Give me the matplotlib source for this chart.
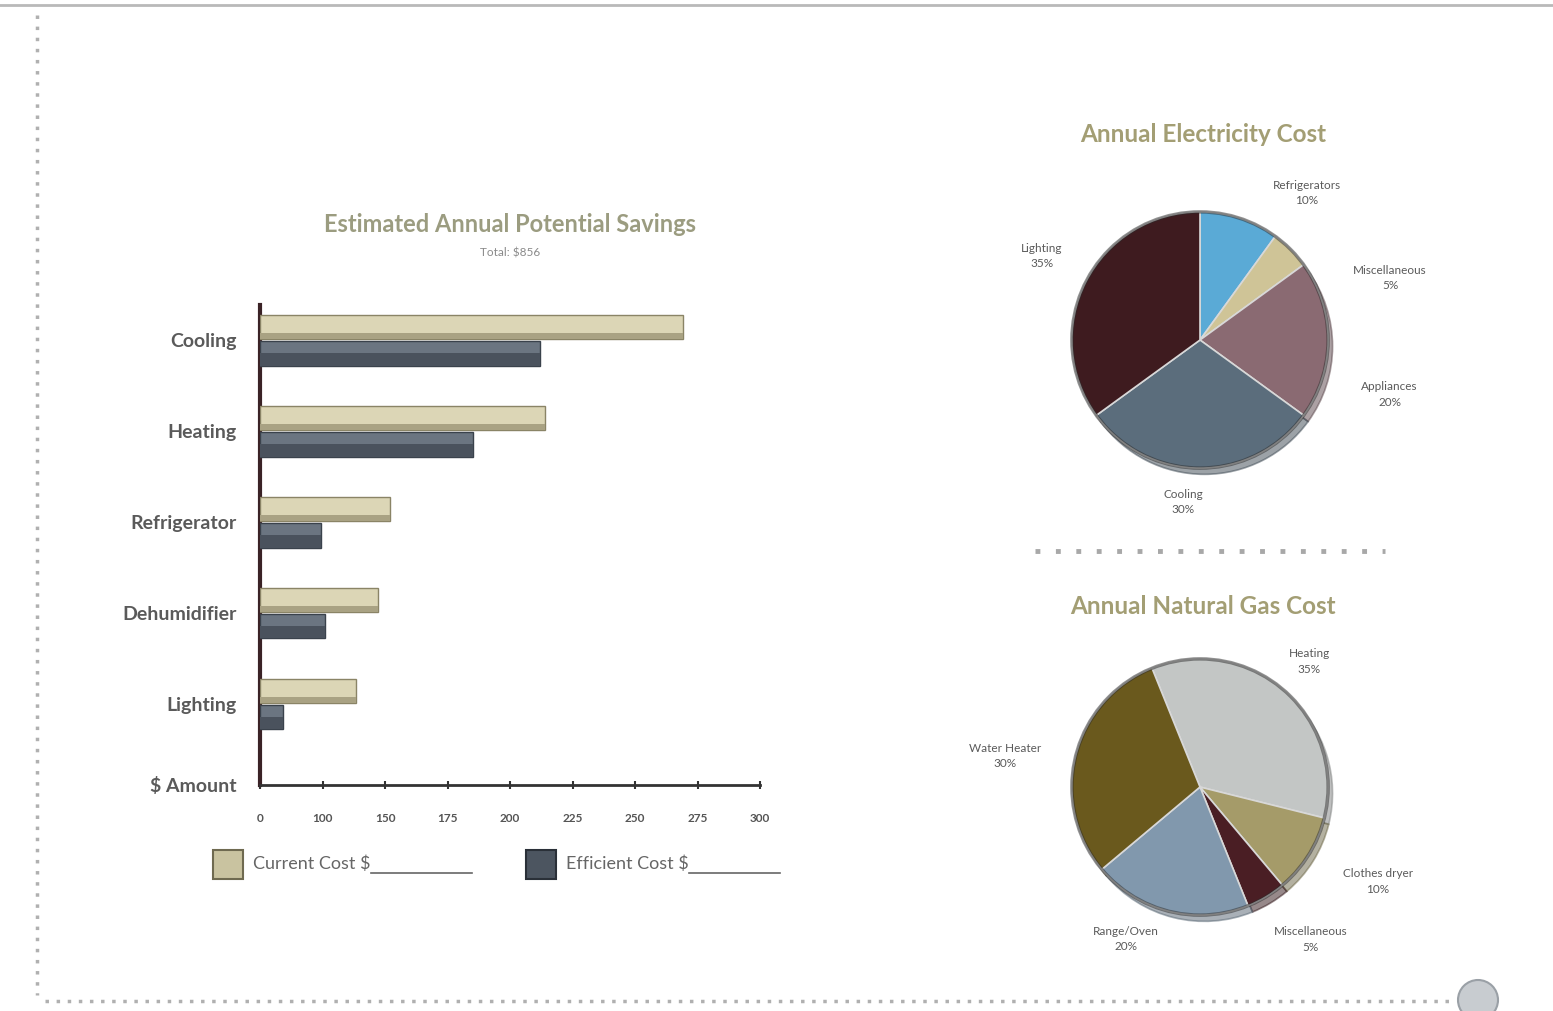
import numpy as np
import matplotlib
matplotlib.use("Agg")
import matplotlib.pyplot as plt
from matplotlib.lines import Line2D
from matplotlib.patches import Rectangle, Circle, Ellipse

plt.rcParams['font.family'] = ['Lato', 'DejaVu Sans']

# ---------------- data ----------------
categories = ["Cooling", "Heating", "Refrigerator", "Dehumidifier", "Lighting"]
current_cost = [269, 214, 152, 144, 127]
efficient_cost = [212, 185, 98, 102, 37]
x_tick_values = [0, 100, 150, 175, 200, 225, 250, 275, 300]
x_tick_labels = ["0", "100", "150", "175", "200", "225", "250", "275", "300"]
bar_title = "Estimated Annual Potential Savings"
bar_subtitle = "Total: $856"
legend_labels = ["Current Cost $", "Efficient Cost $"]

elec_labels = ["Refrigerators", "Miscellaneous", "Appliances", "Cooling", "Lighting"]
elec_values = [10, 5, 20, 30, 35]
elec_colors = ["#5aaad6", "#cfc497", "#8a6a72", "#5b6d7c", "#3e1b1f"]

gas_labels = ["Heating", "Clothes dryer", "Miscellaneous", "Range/Oven", "Water Heater"]
gas_values = [35, 10, 5, 20, 30]
gas_colors = ["#c3c6c5", "#a59b69", "#4a1e24", "#8198ad", "#6a591d"]

# label placement (layout only): (angle deg, radius in pie radii)
elec_label_pos = [(54, 1.42), (18, 1.56), (-16, 1.54), (-96, 1.27), (152, 1.40)]
gas_label_pos = [(49, 1.30), (-28, 1.57), (-54, 1.47), (-116, 1.32), (171, 1.54)]

# ---------------- figure ----------------
W, H = 1553, 1011
fig = plt.figure(figsize=(W / 100, H / 100), dpi=100)
fig.patch.set_facecolor("white")

# decorative frame
fig.add_artist(Line2D([0, 1], [1 - 5 / H, 1 - 5 / H], color="#b9b9b9", lw=2))
fig.add_artist(Line2D([37 / W, 37 / W], [1 - 15 / H, 1 - 995 / H], color="#b0b0b0",
                      lw=2.5, ls=(0, (1, 2.2))))
fig.add_artist(Line2D([45 / W, 1455 / W], [1 - 1001 / H, 1 - 1001 / H], color="#b0b0b0",
                      lw=2.5, ls=(0, (1, 2.2))))
fig.add_artist(Line2D([1035 / W, 1385 / W], [1 - 551 / H, 1 - 551 / H], color="#a8a8a8",
                      lw=3.5, ls=(0, (1, 3.2))))
fig.add_artist(Ellipse((1478 / W, 1 - 1000 / H), 40 / W, 40 / H, transform=fig.transFigure,
                       facecolor="#c8ccd0", edgecolor="#9aa0a6", lw=1.5, zorder=5))

# ---------------- bar chart ----------------
fwd = lambda v: np.interp(v, x_tick_values, np.arange(len(x_tick_values)))
inv = lambda p: np.interp(p, np.arange(len(x_tick_values)), x_tick_values)

axb = fig.add_axes([260 / W, 1 - 785 / H, 500 / W, 480 / H])
axb.set_xscale('function', functions=(fwd, inv))
y = np.arange(len(categories))
bh = 0.27
yc = y - bh / 2 - 0.01
ye = y + bh / 2 + 0.01
axb.barh(yc, current_cost, height=bh, color="#dcd6b6", edgecolor="#8a8466",
         linewidth=1.0, zorder=3)
axb.barh(yc + bh * 0.38, current_cost, height=bh * 0.24, color="#a9a283", linewidth=0,
         zorder=4)
axb.barh(ye, efficient_cost, height=bh, color="#6b7581", edgecolor="#3a424c",
         linewidth=1.0, zorder=3)
axb.barh(ye + bh * 0.25, efficient_cost, height=bh * 0.5, color="#4a525d", linewidth=0,
         zorder=4)
axb.set_xlim(0, 300)
axb.set_ylim(4.89, -0.385)
axb.set_yticks(list(y) + [4.89])
axb.set_yticklabels(categories + ["$ Amount"], fontsize=14, fontweight="bold",
                    color="#5a5a5a")
axb.tick_params(axis="y", length=0, pad=17)
axb.set_xticks(x_tick_values)
axb.set_xticklabels(x_tick_labels, fontsize=8.5, color="#555555", fontweight="bold")
axb.tick_params(axis="x", length=6, width=1.5, color="#333333", pad=17, direction="inout")
axb.minorticks_off()
for s in ["top", "right"]:
    axb.spines[s].set_visible(False)
axb.spines["left"].set_color("#3a2226")
axb.spines["left"].set_linewidth(3)
axb.spines["bottom"].set_color("#333333")
axb.spines["bottom"].set_linewidth(2)
axb.set_facecolor("none")

fig.text(510 / W, 1 - 224 / H, bar_title, ha="center", va="center", fontsize=17,
         fontweight="bold", color="#9b9c80")
fig.text(510 / W, 1 - 253 / H, bar_subtitle, ha="center", va="center", fontsize=8.5,
         color="#8a8a8a")

# legend
for px, lab, col, ec, lend in [(213, legend_labels[0], "#c9c3a0", "#6f6a50", 472),
                               (526, legend_labels[1], "#4c5560", "#2a3038", 780)]:
    fig.add_artist(Rectangle((px / W, 1 - 879 / H), 30 / W, 29 / H, transform=fig.transFigure,
                             facecolor=col, edgecolor=ec, lw=1.5))
    t = fig.text((px + 40) / W, 1 - 864 / H, lab, ha="left", va="center", fontsize=13,
                 color="#666666")
    fig.canvas.draw()
    bb = t.get_window_extent()
    fig.add_artist(Line2D([bb.x1 / W, lend / W], [1 - 873 / H, 1 - 873 / H],
                          color="#666666", lw=1.2))

# ---------------- pies ----------------
def draw_pie(rect, values, colors, labels, label_pos, startangle, title, title_y):
    ax = fig.add_axes(rect)
    wedges, _ = ax.pie(values, colors=colors, startangle=startangle, counterclock=False,
                       wedgeprops=dict(edgecolor="#d8d8d8", linewidth=1.2),
                       shadow=dict(ox=0.025, oy=-0.035, shade=0.35))
    ax.add_patch(Circle((0, 0), 1.0, fill=False, edgecolor="#2a2a2a", lw=2.5, alpha=0.5,
                        zorder=4))
    for lab, val, (a, r) in zip(labels, values, label_pos):
        ang = np.deg2rad(a)
        ax.text(r * np.cos(ang), r * np.sin(ang), f"{lab}\n{val}%", ha="center",
                va="center", fontsize=8.5, color="#5a5a5a", linespacing=1.5)
    ax.set_xlim(-1.6, 1.6)
    ax.set_ylim(-1.6, 1.6)
    ax.set_aspect("equal")
    ax.axis("off")
    fig.text(1203 / W, 1 - title_y / H, title, ha="center", va="center", fontsize=17.5,
             fontweight="bold", color="#a39e74")
    return ax

draw_pie([995 / W, 1 - 545 / H, 410 / W, 410 / H], elec_values, elec_colors, elec_labels,
         elec_label_pos, 90, "Annual Electricity Cost", 134)
draw_pie([995 / W, 1 - 992 / H, 410 / W, 410 / H], gas_values, gas_colors, gas_labels,
         gas_label_pos, 112, "Annual Natural Gas Cost", 607)

fig.savefig("out.png", dpi=100)
